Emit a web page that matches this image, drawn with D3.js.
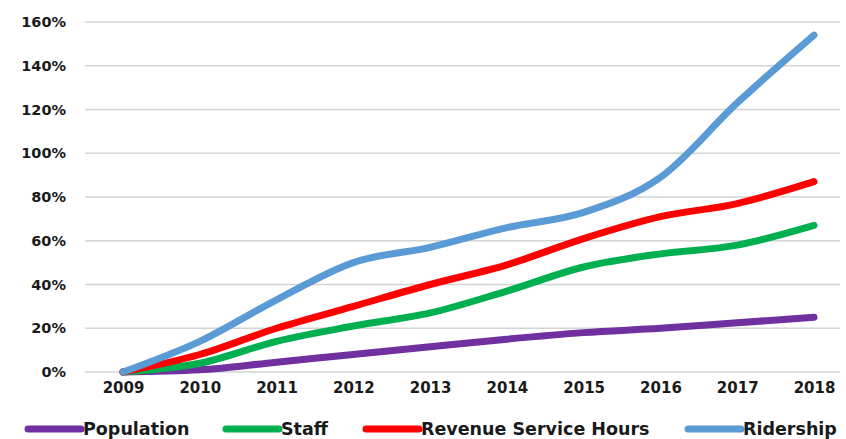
<!DOCTYPE html>
<html>
<head>
<meta charset="utf-8">
<script src="https://cdn.jsdelivr.net/npm/d3@7"></script>
<style>
  body { margin: 0; background: #fff; }
  text { font-family: "DejaVu Sans", Verdana, sans-serif; font-weight: bold; fill: #1a1a1a; }
</style>
</head>
<body>
<svg width="846" height="439"></svg>
<script>
"use strict";

// Data (percent growth since 2009).

var years = [2009, 2010, 2011, 2012, 2013, 2014, 2015, 2016, 2017, 2018];
var yTicks = [0, 20, 40, 60, 80, 100, 120, 140, 160];

var population = [0, 1, 4.5, 8, 11.5, 15, 18, 20, 22.5, 25];
var staff      = [0, 4, 14, 21, 27, 37, 48, 54, 58, 67];
var revenue    = [0, 8, 20, 30, 40, 49, 61, 71, 77, 87];
var ridership  = [0, 14, 33, 50, 57, 66, 73, 89, 123, 154];

var seriesNames = ["Population", "Staff", "Revenue Service Hours", "Ridership"];
var seriesValues = [population, staff, revenue, ridership];
var seriesColors = ["#7030A0", "#00B050", "#FF0000", "#5B9BD5"];

// SVG.

var svg = d3.select("svg");

var x = d3.scalePoint()
    .domain(years)
    .range([123, 814]);

var y = d3.scaleLinear()
    .domain([0, 160])
    .range([372, 22]);

// Gridlines.

svg.append("g")
    .selectAll("line")
    .data(yTicks)
    .enter()
    .append("line")
        .attr("x1", 85)
        .attr("x2", 840)
        .attr("y1", function(d){ return y(d); })
        .attr("y2", function(d){ return y(d); })
        .style("stroke", "#d4d4d4")
        .style("stroke-width", 1.5);

// Y axis labels.

var yAxis = d3.axisLeft(y)
    .tickValues(yTicks)
    .tickSize(0)
    .tickPadding(0)
    .tickFormat(function(d){ return d + "%"; });

svg.append("g")
    .attr("transform", "translate(66,0)")
    .call(yAxis)
    .call(function(g){ g.select(".domain").remove(); })
    .selectAll("text")
        .style("font-size", "14.5px")
        .style("font-family", "DejaVu Sans, sans-serif")
        .style("font-weight", "bold")
        .attr("fill", "#1a1a1a");

// X axis labels.

var xAxis = d3.axisBottom(x)
    .tickSize(0)
    .tickPadding(0);

svg.append("g")
    .attr("transform", "translate(0,382)")
    .call(xAxis)
    .call(function(g){ g.select(".domain").remove(); })
    .selectAll("text")
        .style("font-size", "15px")
        .style("font-family", "DejaVu Sans, sans-serif")
        .style("font-weight", "bold")
        .attr("fill", "#1a1a1a");

// Lines.

var line = d3.line()
    .x(function(d, i){ return x(years[i]); })
    .y(function(d){ return y(d); })
    .curve(d3.curveMonotoneX);

svg.append("g")
    .selectAll("path")
    .data(seriesValues)
    .enter()
    .append("path")
        .attr("d", line)
        .attr("fill", "none")
        .attr("stroke", function(d, i){ return seriesColors[i]; })
        .attr("stroke-width", 7)
        .attr("stroke-linecap", "round")
        .attr("stroke-linejoin", "round");

// Legend.

var legendX = [28, 226, 366, 688];

var legend = svg.append("g")
    .selectAll("g")
    .data(seriesNames)
    .enter()
    .append("g")
        .attr("transform", function(d, i){ return "translate(" + legendX[i] + ",429)"; });

legend.append("line")
    .attr("x1", 0)
    .attr("x2", 53)
    .attr("stroke", function(d, i){ return seriesColors[i]; })
    .attr("stroke-width", 7)
    .attr("stroke-linecap", "round");

legend.append("text")
    .attr("x", 55)
    .attr("dy", "0.36em")
    .style("font-size", "17.5px")
    .text(function(d){ return d; });
</script>
</body>
</html>
